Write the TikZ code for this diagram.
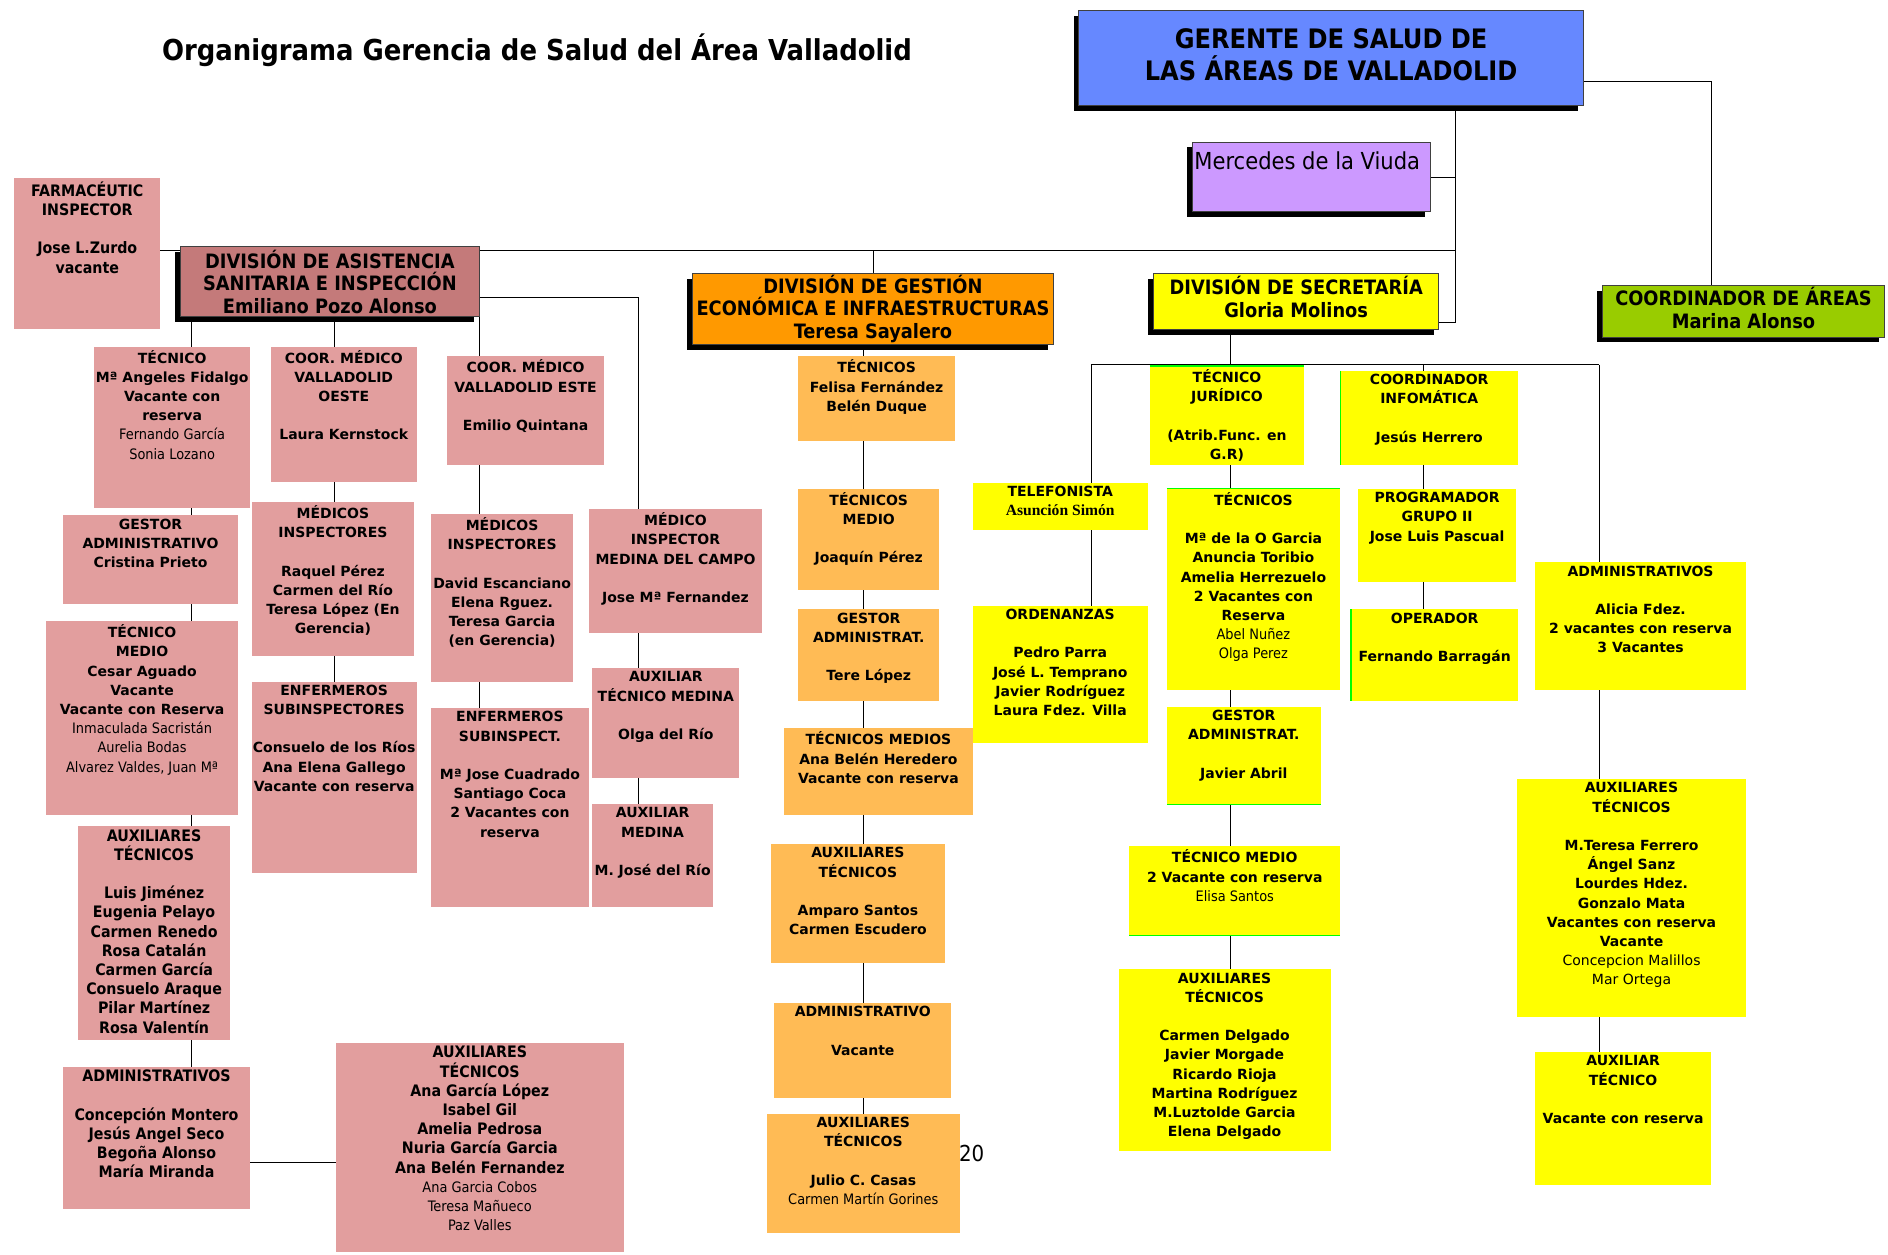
\documentclass[tikz,border=0pt]{standalone}
\usepackage{fontspec}
\setmainfont{DejaVu Sans}
\newfontfamily\tahoma{DejaVu Sans Condensed}
\newfontfamily\romana{Liberation Serif}
\usepackage{tikz}
\usetikzlibrary{fit,shadows,backgrounds}

\definecolor{azul}{RGB}{102,136,255}
\definecolor{morado}{RGB}{204,153,255}
\definecolor{verde}{RGB}{153,204,0}
\definecolor{amarillo}{RGB}{255,255,0}
\definecolor{naranja}{RGB}{255,153,0}
\definecolor{naranjaclaro}{RGB}{255,187,85}
\definecolor{granate}{RGB}{196,122,122}
\definecolor{rosa}{RGB}{226,158,158}
\definecolor{verdeclaro}{RGB}{0,255,0}

\newcommand{\verdb}{\fontsize{7}{9.6}\selectfont\bfseries}
\newcommand{\verdr}{\fontsize{7}{9.6}\selectfont\mdseries}
\newcommand{\tahb}{\tahoma\fontsize{7.9}{9.6}\selectfont\bfseries}
\newcommand{\tahr}{\tahoma\fontsize{7.2}{9.6}\selectfont\mdseries}
\newcommand{\romb}{\romana\fontsize{7.8}{9.6}\selectfont\bfseries}
\newcommand{\divfont}{\tahoma\fontsize{9.9}{11.3}\selectfont\bfseries}

% box with text at the top
\newcommand{\caja}[6][verdana]{%
 \node[#3, fit={#4 #5}] (#2) {};
 \node[texto, #1] (#2-t) at (#2.north) {#6};}
% heading box with centred text
\newcommand{\jefe}[6][division]{%
 \node[#3, fit={#4 #5}] (#2) {};
 \node[align=center, inner sep=0pt, #1] (#2-t) at (#2.center) {#6};}

\tikzset{
 caja/.style={inner sep=0pt, outer sep=0pt},
 rosa/.style={caja, fill=rosa},
 naranja/.style={caja, fill=naranjaclaro},
 amarillo/.style={caja, fill=amarillo},
 jefe/.style={caja, draw=black!75, line width=0.5pt,
   drop shadow={shadow xshift=-2.6pt, shadow yshift=-2.6pt, fill=black, opacity=1}},
 texto/.style={anchor=north, align=center, inner sep=1.5pt},
 verdana/.style={font=\verdb},
 tahoma/.style={font=\tahb},
 division/.style={font=\divfont},
 linea/.style={line width=0.85pt},
 borde/.style={draw=verdeclaro, line width=0.6pt},
}

\begin{document}
\begin{tikzpicture}[x=0.602pt, y=-0.602pt]
\useasboundingbox (0,0) rectangle (1568,1042);

% title
\node[font=\tahoma\fontsize{14.4}{17}\selectfont\bfseries] (titulo) at (446,42)
 {Organigrama Gerencia de Salud del Área Valladolid};

% heads
\jefe[font=\tahoma\fontsize{13.4}{15.7}\selectfont\bfseries, yshift=1.8pt]{gerente}{jefe, fill=azul}{(896,9)}{(1315,88)}
 {GERENTE DE SALUD DE\\LAS ÁREAS DE VALLADOLID}
\node[jefe, fill=morado, fit={(990,118)(1188,176)}] (merce) {};
\node[anchor=north west, inner sep=1pt, yshift=-3.5pt, font=\tahoma\fontsize{11.7}{13}\selectfont] (merce-t)
 at (merce.north west) {Mercedes de la Viuda};
\jefe{asis}{jefe, fill=granate}{(150,205)}{(398,263)}
 {DIVISIÓN DE ASISTENCIA\\SANITARIA E INSPECCIÓN\\Emiliano Pozo Alonso}
\jefe{gestion}{jefe, fill=naranja}{(575,227)}{(875,286)}
 {DIVISIÓN DE GESTIÓN\\ECONÓMICA E INFRAESTRUCTURAS\\Teresa Sayalero}
\jefe[division, yshift=2.4pt]{secre}{jefe, fill=amarillo}{(958,227)}{(1195,274)}
 {DIVISIÓN DE SECRETARÍA\\Gloria Molinos}
\jefe[division, yshift=1.8pt]{coordA}{jefe, fill=verde}{(1331,237)}{(1565,280)}
 {COORDINADOR DE ÁREAS\\Marina Alonso}
\caja[tahoma]{farm}{rosa}{(12,148)}{(133,273)}
 {FARMACÉUTIC\\INSPECTOR\\~\\Jose L.Zurdo\\vacante}

% asistencia sanitaria
\caja{tecA}{rosa}{(78,288)}{(208,422)}
 {TÉCNICO\\Mª Angeles Fidalgo\\Vacante con\\reserva\\{\tahr Fernando García}\\{\tahr Sonia Lozano}}
\caja{gestA}{rosa}{(52,428)}{(198,502)}
 {GESTOR\\ADMINISTRATIVO\\Cristina Prieto}
\caja{tmA}{rosa}{(38,516)}{(198,677)}
 {TÉCNICO\\MEDIO\\Cesar Aguado\\Vacante\\Vacante con Reserva\\{\tahr Inmaculada Sacristán}\\{\tahr Aurelia Bodas}\\{\tahr Alvarez Valdes, Juan Mª}}
\caja[tahoma]{auxA}{rosa}{(65,686)}{(191,864)}
 {AUXILIARES\\TÉCNICOS\\~\\Luis Jiménez\\Eugenia Pelayo\\Carmen Renedo\\Rosa Catalán\\Carmen García\\Consuelo Araque\\Pilar Martínez\\Rosa Valentín}
\caja[tahoma]{adminA}{rosa}{(52,886)}{(208,1004)}
 {ADMINISTRATIVOS\\~\\Concepción Montero\\Jesús Angel Seco\\Begoña Alonso\\María Miranda}
\caja[tahoma]{auxBig}{rosa}{(279,866)}{(518,1040)}
 {AUXILIARES\\TÉCNICOS\\Ana García López\\Isabel Gil\\Amelia Pedrosa\\Nuria García Garcia\\Ana Belén Fernandez\\{\tahr Ana Garcia Cobos}\\{\tahr Teresa Mañueco}\\{\tahr Paz Valles}}
\caja{coorB}{rosa}{(225,288)}{(346,400)}
 {COOR. MÉDICO\\VALLADOLID\\OESTE\\~\\Laura Kernstock}
\caja{medB}{rosa}{(209,417)}{(344,545)}
 {MÉDICOS\\INSPECTORES\\~\\Raquel Pérez\\Carmen del Río\\Teresa López (En\\Gerencia)}
\caja{enfB}{rosa}{(209,566)}{(346,725)}
 {ENFERMEROS\\SUBINSPECTORES\\~\\Consuelo de los Ríos\\Ana Elena Gallego\\Vacante con reserva}
\caja{coorC}{rosa}{(371,296)}{(502,386)}
 {COOR. MÉDICO\\VALLADOLID ESTE\\~\\Emilio Quintana}
\caja{medC}{rosa}{(358,427)}{(476,566)}
 {MÉDICOS\\INSPECTORES\\~\\David Escanciano\\Elena Rguez.\\Teresa Garcia\\(en Gerencia)}
\caja{enfC}{rosa}{(358,588)}{(489,753)}
 {ENFERMEROS\\SUBINSPECT.\\~\\Mª Jose Cuadrado\\Santiago Coca\\2 Vacantes con\\reserva}
\caja{medD}{rosa}{(489,423)}{(633,526)}
 {MÉDICO\\INSPECTOR\\MEDINA DEL CAMPO\\~\\Jose Mª Fernandez}
\caja{atD}{rosa}{(492,555)}{(614,646)}
 {AUXILIAR\\TÉCNICO MEDINA\\~\\Olga del Río}
\caja{auxD}{rosa}{(492,668)}{(592,753)}
 {AUXILIAR\\MEDINA\\~\\M. José del Río}

% gestion economica
\caja{g1}{naranja}{(663,296)}{(793,366)}
 {TÉCNICOS\\Felisa Fernández\\Belén Duque}
\caja{g2}{naranja}{(663,406)}{(780,490)}
 {TÉCNICOS\\MEDIO\\~\\Joaquín Pérez}
\caja{g3}{naranja}{(663,506)}{(780,582)}
 {GESTOR\\ADMINISTRAT.\\~\\Tere López}
\caja{g4}{naranja}{(651,605)}{(808,677)}
 {TÉCNICOS MEDIOS\\Ana Belén Heredero\\Vacante con reserva}
\caja{g5}{naranja}{(640,701)}{(785,800)}
 {AUXILIARES\\TÉCNICOS\\~\\Amparo Santos\\Carmen Escudero}
\caja{g6}{naranja}{(643,833)}{(790,912)}
 {ADMINISTRATIVO\\~\\Vacante}
\caja{g7}{naranja}{(637,925)}{(797,1024)}
 {AUXILIARES\\TÉCNICOS\\~\\Julio C. Casas\\{\tahr Carmen Martín Gorines}}
\node[font=\tahoma\fontsize{11}{13}\selectfont] (pagina) at (807,958) {20};

% secretaria
\caja{tel}{amarillo}{(808,401)}{(953,440)}
 {TELEFONISTA\\{\romb Asunción Simón}}
\caja{ord}{amarillo}{(808,503)}{(953,617)}
 {ORDENANZAS\\~\\Pedro Parra\\José L. Temprano\\Javier Rodríguez\\Laura Fdez. Villa}
\caja{jur}{amarillo}{(955,304)}{(1083,386)}
 {TÉCNICO\\JURÍDICO\\~\\(Atrib.Func. en\\G.R)}
\caja{tecS}{amarillo}{(969,406)}{(1113,573)}
 {TÉCNICOS\\~\\Mª de la O Garcia\\Anuncia Toribio\\Amelia Herrezuelo\\2 Vacantes con\\Reserva\\{\tahr Abel Nuñez}\\{\tahr Olga Perez}}
\caja{gestS}{amarillo}{(969,587)}{(1097,668)}
 {GESTOR\\ADMINISTRAT.\\~\\Javier Abril}
\caja{tmS}{amarillo}{(938,703)}{(1113,777)}
 {TÉCNICO MEDIO\\2 Vacante con reserva\\{\tahr Elisa Santos}}
\caja{auxS}{amarillo}{(929,805)}{(1105,956)}
 {AUXILIARES\\TÉCNICOS\\~\\Carmen Delgado\\Javier Morgade\\Ricardo Rioja\\Martina Rodríguez\\M.Luztolde Garcia\\Elena Delgado}
\caja{info}{amarillo}{(1113,308)}{(1261,386)}
 {COORDINADOR\\INFOMÁTICA\\~\\Jesús Herrero}
\caja{prog}{amarillo}{(1128,406)}{(1259,483)}
 {PROGRAMADOR\\GRUPO II\\Jose Luis Pascual}
\caja{oper}{amarillo}{(1122,506)}{(1261,582)}
 {OPERADOR\\~\\Fernando Barragán}
\caja{admS}{amarillo}{(1275,467)}{(1450,573)}
 {ADMINISTRATIVOS\\~\\Alicia Fdez.\\2 vacantes con reserva\\3 Vacantes}
\caja{auxR}{amarillo}{(1260,647)}{(1450,845)}
 {AUXILIARES\\TÉCNICOS\\~\\M.Teresa Ferrero\\Ángel Sanz\\Lourdes Hdez.\\Gonzalo Mata\\Vacantes con reserva\\Vacante\\{\verdr Concepcion Malillos}\\{\verdr Mar Ortega}}
\caja{auxT}{amarillo}{(1275,874)}{(1421,984)}
 {AUXILIAR\\TÉCNICO\\~\\Vacante con reserva}

% green edges
\draw[borde] (jur.north west) -- (jur.north east);
\draw[borde] (tecS.north west) -- (tecS.north east);
\draw[borde] (gestS.south west) -- (gestS.south east);
\draw[borde] (tmS.south west) -- (tmS.south east);
\draw[borde] (info.north west) -- (info.south west);
\draw[borde] (oper.north west) -- (oper.south west);

% edges
\begin{scope}[on background layer, linea]
 \coordinate (t0) at (1209,88);
 \coordinate (t1) at (1209,268);
 \coordinate (bus) at (1209,208);
 \draw (t0) -- (t1) -- (t1 -| secre.east);
 \draw (merce.east) -- (merce.east -| t0);
 \draw (farm.east |- bus) -- (bus);
 \draw (gestion.north) -- (gestion.north |- bus);
 \coordinate (r0) at (1421,68);
 \draw (gerente.east |- r0) -- (r0) -- (r0 |- coordA.north);
 % asistencia
 \coordinate (cA) at (159,0);
 \coordinate (cB) at (278,0);
 \coordinate (cC) at (398,0);
 \coordinate (cD) at (530,247);
 \draw (asis.south -| cA) -- (adminA.north -| cA);
 \draw (asis.south -| cB) -- (enfB.north -| cB);
 \draw (asis.south -| cC) -- (enfC.north -| cC);
 \draw (asis.east |- cD) -- (cD) -- (cD |- auxD.north);
 \coordinate (h1) at (208,965);
 \draw (h1) -- (h1 -| auxBig.west);
 % gestion
 \coordinate (cG) at (717,0);
 \draw (gestion.south -| cG) -- (g7.north -| cG);
 % secretaria
 \coordinate (sB) at (1022,303);
 \coordinate (sL) at (906,303);
 \coordinate (sI) at (1182,303);
 \coordinate (sR) at (1328,303);
 \draw (secre.south -| sB) -- (auxS.north -| sB);
 \draw (sL) -- (sR);
 \draw (sL) -- (sL |- ord.north);
 \draw (sI) -- (sI |- oper.north);
 \draw (sR) -- (sR |- auxT.north);
\end{scope}
\end{tikzpicture}
\end{document}
